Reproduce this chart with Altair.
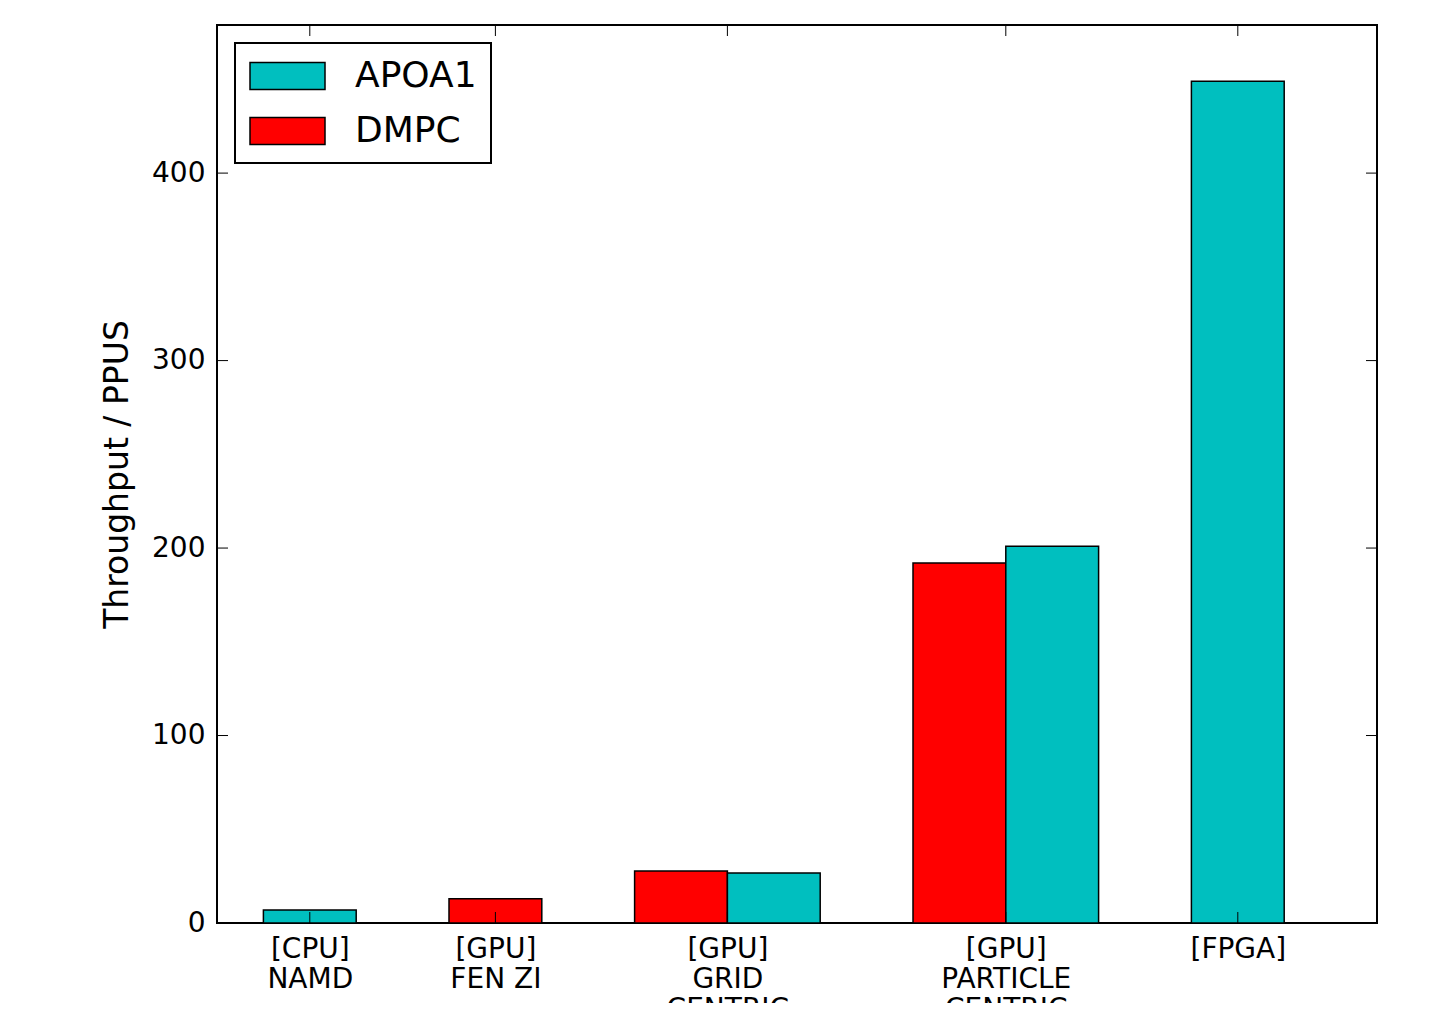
import altair as alt
import pandas as pd

categories = ["[CPU]|NAMD", "[GPU]|FEN ZI", "[GPU]|GRID|CENTRIC", "[GPU]|PARTICLE|CENTRIC", "[FPGA]"]
centers = [0, 2, 4.5, 7.5, 10]
apoa1 = [7, None, 26.7, 201, 449]
dmpc = [None, 13, 27.7, 192, None]
series = ["APOA1", "DMPC"]
colors = ["#00BFBF", "#FF0000"]
y_ticks = [0, 100, 200, 300, 400]

rows = []
for c, a, d in zip(centers, apoa1, dmpc):
    both = a is not None and d is not None
    if d is not None:
        lo, hi = (c - 1, c) if both else (c - 0.5, c + 0.5)
        rows.append({"series": "DMPC", "x0": lo, "x1": hi, "value": d})
    if a is not None:
        lo, hi = (c, c + 1) if both else (c - 0.5, c + 0.5)
        rows.append({"series": "APOA1", "x0": lo, "x1": hi, "value": a})
bars_df = pd.DataFrame(rows)

W, H = 1160, 898
FONT = "DejaVu Sans"
TICK = 11

label_expr = ""
for c, cat in zip(centers, categories):
    parts = ", ".join("'" + p + "'" for p in cat.split("|"))
    label_expr += f"datum.value == {c} ? [{parts}] : "
label_expr += "''"

xscale = alt.Scale(domain=[-1, 11.5], nice=False, zero=False)
yscale = alt.Scale(domain=[0, 479], nice=False)

bars = alt.Chart(bars_df).mark_bar(stroke="black", strokeWidth=1.5, opacity=1).encode(
    x=alt.X("x0:Q", scale=xscale,
            axis=alt.Axis(values=centers, labelExpr=label_expr, title=None, grid=False,
                          domain=False, tickSize=0, labelPadding=12, labelFontSize=28,
                          labelFont=FONT, labelColor="black", labelLineHeight=30,
                          labelBaseline="top", labelFlush=False, labelOverlap=False)),
    x2="x1:Q",
    y=alt.Y("value:Q", scale=yscale,
            axis=alt.Axis(values=y_ticks, title="Throughput / PPUS", grid=False, domain=False,
                          tickSize=0, labelPadding=12, labelFontSize=28, labelFont=FONT,
                          labelColor="black", titleFont=FONT, titleFontSize=33,
                          titleFontWeight="normal", titleColor="black", titlePadding=17)),
    y2=alt.datum(0),
    fill=alt.Fill("series:N", scale=alt.Scale(domain=series, range=colors),
                  legend=alt.Legend(title=None, orient="none", legendX=18, legendY=18,
                                    symbolType="M-1,-0.75L3.167,-0.75L3.167,0.75L-1,0.75Z",
                                    symbolSize=1296, symbolStrokeColor="black",
                                    symbolStrokeWidth=1.5, symbolOpacity=1,
                                    labelFont=FONT, labelFontSize=36, labelColor="black",
                                    labelOffset=68, strokeColor="black",
                                    fillColor="white", padding=14, rowPadding=18,
                                    cornerRadius=0)),
)

ytick_df = pd.DataFrame({"v": y_ticks})
xtick_df = pd.DataFrame({"c": centers})

yt_left = alt.Chart(ytick_df).mark_rule(color="black", strokeWidth=1).encode(
    y=alt.Y("v:Q", scale=yscale), x=alt.value(0), x2=alt.value(TICK))
yt_right = alt.Chart(ytick_df).mark_rule(color="black", strokeWidth=1).encode(
    y=alt.Y("v:Q", scale=yscale), x=alt.value(W - TICK), x2=alt.value(W))
xt_bottom = alt.Chart(xtick_df).mark_rule(color="black", strokeWidth=1).encode(
    x=alt.X("c:Q", scale=xscale), y=alt.value(H - TICK), y2=alt.value(H))
xt_top = alt.Chart(xtick_df).mark_rule(color="black", strokeWidth=1).encode(
    x=alt.X("c:Q", scale=xscale), y=alt.value(0), y2=alt.value(TICK))

chart = alt.layer(bars, yt_left, yt_right, xt_bottom, xt_top).properties(
    width=W, height=H,
    autosize=alt.AutoSizeParams(type="none"),
    padding={"left": 209, "top": 17, "right": 62, "bottom": 80},
).configure(background="white").configure_view(
    stroke="black", strokeWidth=2
).configure_legend(strokeWidth=2)

chart.save("out.html", embed_options={"renderer": "svg", "actions": False})
